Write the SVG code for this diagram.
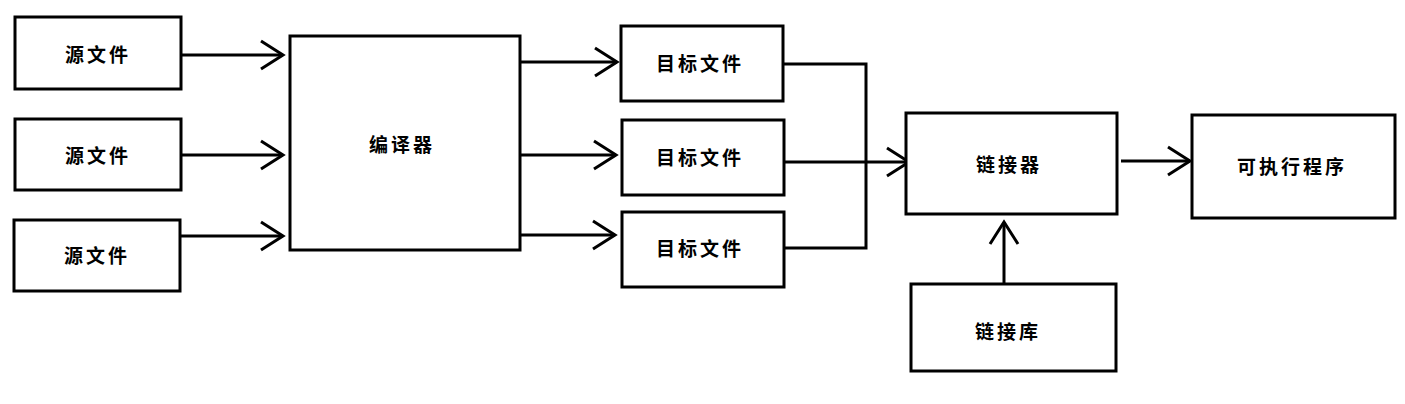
<svg xmlns="http://www.w3.org/2000/svg" width="1405" height="404" viewBox="0 0 1405 404">
<style>
.box{fill:#fff;stroke:#000;stroke-width:3}
.lbl{font-family:"Noto Sans CJK SC","Noto Sans CJK JP",sans-serif;font-size:19px;font-weight:bold;letter-spacing:3px;text-anchor:middle;dominant-baseline:central;fill:#000}
.c{fill:none;stroke:#000;stroke-width:3}
</style>
<defs>
<marker id="ah" markerUnits="userSpaceOnUse" markerWidth="30" markerHeight="34" refX="24" refY="16" orient="auto" viewBox="0 0 30 34" overflow="visible">
<path d="M2,2 L24,16 L2,30" fill="none" stroke="#000" stroke-width="3"/>
</marker>
</defs>
<rect width="1405" height="404" fill="#fff"/>
<g id="connectors">
<path class="c" d="M181,55 H283" marker-end="url(#ah)"/>
<path class="c" d="M181,155 H283" marker-end="url(#ah)"/>
<path class="c" d="M181,236 H283" marker-end="url(#ah)"/>
<path class="c" d="M520,62 H617" marker-end="url(#ah)"/>
<path class="c" d="M520,155 H616" marker-end="url(#ah)"/>
<path class="c" d="M520,235 H615" marker-end="url(#ah)"/>
<path class="c" d="M783,64 H866 V248 H784"/>
<path class="c" d="M784,162 H909" marker-end="url(#ah)"/>
<path class="c" d="M1121,161 H1190" marker-end="url(#ah)"/>
<path class="c" d="M1004,284 V222" marker-end="url(#ah)"/>
</g>
<g id="src1"><rect class="box" x="15" y="17" width="166" height="72"/><text class="lbl" x="98" y="53">源文件</text></g>
<g id="src2"><rect class="box" x="15" y="119" width="166" height="71"/><text class="lbl" x="98" y="154">源文件</text></g>
<g id="src3"><rect class="box" x="14" y="220" width="166" height="71"/><text class="lbl" x="97" y="254">源文件</text></g>
<g id="compiler"><rect class="box" x="290" y="36" width="230" height="214"/><text class="lbl" x="402" y="143">编译器</text></g>
<g id="obj1"><rect class="box" x="621" y="26" width="162" height="75"/><text class="lbl" x="700" y="62">目标文件</text></g>
<g id="obj2"><rect class="box" x="622" y="120" width="162" height="75"/><text class="lbl" x="700" y="156">目标文件</text></g>
<g id="obj3"><rect class="box" x="622" y="212" width="162" height="75"/><text class="lbl" x="700" y="247">目标文件</text></g>
<g id="linker"><rect class="box" x="906" y="113" width="211" height="101"/><text class="lbl" x="1009" y="163">链接器</text></g>
<g id="exe"><rect class="box" x="1192" y="115" width="203" height="103"/><text class="lbl" x="1292" y="165">可执行程序</text></g>
<g id="lib"><rect class="box" x="911" y="284" width="205" height="87"/><text class="lbl" x="1008" y="330">链接库</text></g>
</svg>
